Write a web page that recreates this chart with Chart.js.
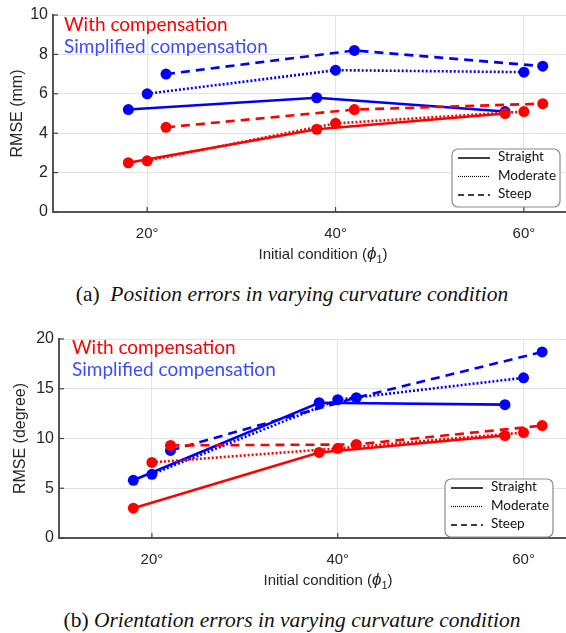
<!DOCTYPE html>
<html>
<head>
<meta charset="utf-8">
<script src="https://cdn.jsdelivr.net/npm/chart.js@4.4.1/dist/chart.umd.min.js"></script>
<style>
  html, body { margin:0; padding:0; background:#fff; }
  body { width:566px; height:633px; overflow:hidden; position:relative; }
  .cv { position:absolute; left:0; }
  .note { position:absolute; font-family: Lato, "Open Sans", sans-serif; font-size:19px; white-space:nowrap; line-height:1; }
  .xt { position:absolute; font-family:"Liberation Sans", Arial, sans-serif; font-size:15px; color:#262626; white-space:nowrap; transform:translateX(-50%); line-height:1; }
  .xt i { font-size:17px; }
  .xt sub { font-size:11px; vertical-align:-4px; }
  .cap { position:absolute; left:0; width:584px; text-align:center; font-family:"Liberation Serif", "Times New Roman", serif; font-size:21.5px; color:#111; white-space:nowrap; line-height:1; }
  .cap i { font-style:italic; }
</style>
</head>
<body>
<canvas id="c1" class="cv" style="top:0px"></canvas>
<canvas id="c2" class="cv" style="top:320px"></canvas>

<div class="note" style="left:64px; top:14px; color:#ff0000;">With compensation</div>
<div class="note" style="left:64px; top:36px; color:#3b4cff;">Simplified compensation</div>
<div class="xt" style="left:323px; top:245px;">Initial condition (<i>ϕ</i><sub>1</sub>)</div>
<div class="cap" style="top:284px;">(a)&nbsp; <i>Position errors in varying curvature condition</i></div>

<div class="note" style="left:72px; top:337px; color:#ff0000;">With compensation</div>
<div class="note" style="left:72px; top:359px; color:#3b4cff;">Simplified compensation</div>
<div class="xt" style="left:328px; top:571px;">Initial condition (<i>ϕ</i><sub>1</sub>)</div>
<div class="cap" style="top:610px;">(b) <i>Orientation errors in varying curvature condition</i></div>

<script>
// ---- data ----
const xStraight = [18, 38, 58];
const xModerate = [20, 40, 60];
const xSteep    = [22, 42, 62];
const xTickValues = [20, 40, 60];
const legendLabels = ['Straight', 'Moderate', 'Steep'];

// Position errors (mm)
const posWithStraight = [2.5, 4.2, 5.0];
const posWithModerate = [2.6, 4.5, 5.1];
const posWithSteep    = [4.3, 5.2, 5.5];
const posSimpStraight = [5.2, 5.8, 5.1];
const posSimpModerate = [6.0, 7.2, 7.1];
const posSimpSteep    = [7.0, 8.2, 7.4];
const posYTicks = [0, 2, 4, 6, 8, 10];

// Orientation errors (degree)
const oriWithStraight = [3.0, 8.6, 10.3];
const oriWithModerate = [7.6, 9.0, 10.6];
const oriWithSteep    = [9.3, 9.4, 11.3];
const oriSimpStraight = [5.8, 13.6, 13.4];
const oriSimpModerate = [6.4, 13.9, 16.1];
const oriSimpSteep    = [8.8, 14.1, 18.7];
const oriYTicks = [0, 5, 10, 15, 20];

// ---- styles ----
const RED = '#ff0000', BLUE = '#0000ff';
const DASH = { Straight: [], Moderate: [2, 2], Steep: [9, 6] };

function pts(xs, ys) { return xs.map((x, i) => ({ x: x, y: ys[i] })); }
function ds(xs, ys, color, kind) {
  return {
    data: pts(xs, ys), borderColor: color, backgroundColor: color,
    borderWidth: 2.6, borderDash: DASH[kind], pointRadius: 5.5, pointHoverRadius: 5.5,
    pointBorderWidth: 0, pointStyle: 'circle', tension: 0, fill: false
  };
}

const inwardTicks = {
  id: 'inwardTicks',
  afterDraw(chart) {
    const ctx = chart.ctx, a = chart.chartArea;
    const xs = chart.scales.x, ys = chart.scales.y;
    ctx.save();
    ctx.strokeStyle = '#444'; ctx.lineWidth = 1.2;
    xs.ticks.forEach(t => { const px = xs.getPixelForValue(t.value);
      ctx.beginPath(); ctx.moveTo(px, a.bottom); ctx.lineTo(px, a.bottom - 5); ctx.stroke(); });
    ys.ticks.forEach(t => { const py = ys.getPixelForValue(t.value);
      ctx.beginPath(); ctx.moveTo(a.left, py); ctx.lineTo(a.left + 5, py); ctx.stroke(); });
    ctx.restore();
  }
};

const boxLegend = {
  id: 'boxLegend',
  afterDraw(chart, args, opts) {
    const ctx = chart.ctx, a = chart.chartArea;
    const w = 108, h = 58;
    const x0 = a.right - opts.right - w, y0 = a.bottom - opts.bottom - h;
    ctx.save();
    ctx.fillStyle = '#fff'; ctx.strokeStyle = '#8c8c8c'; ctx.lineWidth = 1.2;
    ctx.beginPath(); ctx.roundRect(x0, y0, w, h, 6); ctx.fill(); ctx.stroke();
    ctx.font = '13.5px Lato, "Open Sans", sans-serif';
    ctx.fillStyle = '#111'; ctx.textBaseline = 'middle';
    legendLabels.forEach((lab, i) => {
      const yy = y0 + 9 + i * 18.5;
      ctx.strokeStyle = '#000'; ctx.lineWidth = lab === 'Moderate' ? 1.2 : 1.5;
      ctx.setLineDash(lab === 'Moderate' ? [1, 1] : (lab === 'Steep' ? [6, 4] : []));
      ctx.beginPath(); ctx.moveTo(x0 + 6, yy); ctx.lineTo(x0 + 38, yy); ctx.stroke();
      ctx.setLineDash([]);
      ctx.fillText(lab, x0 + 46, yy - 1);
    });
    ctx.restore();
  }
};

function makeChart(id, H, pad, areaBottom, leftW, yTicks, yTitle, titlePad, sets, legendPos) {
  const cv = document.getElementById(id);
  cv.width = 600; cv.height = H;
  cv.style.width = '600px'; cv.style.height = H + 'px';
  return new Chart(cv, {
    type: 'line',
    data: { datasets: sets },
    options: {
      responsive: false, animation: false, devicePixelRatio: 1,
      layout: { padding: pad },
      plugins: { legend: { display: false }, tooltip: { enabled: false }, boxLegend: legendPos },
      scales: {
        x: {
          type: 'linear', min: 10, max: 65,
          afterBuildTicks: s => { s.ticks = xTickValues.map(v => ({ value: v })); },
          afterFit: s => { s.height = H - areaBottom; },
          grid: { color: '#e3e3e3', lineWidth: 1, drawTicks: false },
          border: { display: true, color: '#555', width: 2 },
          ticks: { padding: 13, color: '#262626', font: { family: '"Liberation Sans", Arial, sans-serif', size: 15 },
                   callback: v => v + '°', maxRotation: 0 }
        },
        y: {
          type: 'linear', min: yTicks[0], max: yTicks[yTicks.length - 1],
          afterBuildTicks: s => { s.ticks = yTicks.map(v => ({ value: v })); },
          afterFit: s => { s.width = leftW; },
          grid: { color: '#e3e3e3', lineWidth: 1, drawTicks: false },
          border: { display: true, color: '#555', width: 2 },
          ticks: { padding: 5, color: '#262626', font: { family: '"Liberation Sans", Arial, sans-serif', size: 16 } },
          title: { display: true, text: yTitle, color: '#262626', padding: titlePad,
                   font: { family: '"Liberation Sans", Arial, sans-serif', size: 16 } }
        }
      }
    },
    plugins: [inwardTicks, boxLegend]
  });
}

makeChart('c1', 262, { top: 15, right: 29, left: 0, bottom: 0 }, 212, 53, posYTicks, 'RMSE (mm)',
  { top: 8, bottom: 0 },
  [
    ds(xStraight, posWithStraight, RED, 'Straight'),
    ds(xModerate, posWithModerate, RED, 'Moderate'),
    ds(xSteep,    posWithSteep,    RED, 'Steep'),
    ds(xStraight, posSimpStraight, BLUE, 'Straight'),
    ds(xModerate, posSimpModerate, BLUE, 'Moderate'),
    ds(xSteep,    posSimpSteep,    BLUE, 'Steep')
  ], { right: 11, bottom: 5 });

makeChart('c2', 270, { top: 19, right: 30, left: 0, bottom: 0 }, 218, 59, oriYTicks, 'RMSE (degree)',
  { top: 11, bottom: 0 },
  [
    ds(xStraight, oriWithStraight, RED, 'Straight'),
    ds(xModerate, oriWithModerate, RED, 'Moderate'),
    ds(xSteep,    oriWithSteep,    RED, 'Steep'),
    ds(xStraight, oriSimpStraight, BLUE, 'Straight'),
    ds(xModerate, oriSimpModerate, BLUE, 'Moderate'),
    ds(xSteep,    oriSimpSteep,    BLUE, 'Steep')
  ], { right: 17, bottom: 1 });
</script>
</body>
</html>
